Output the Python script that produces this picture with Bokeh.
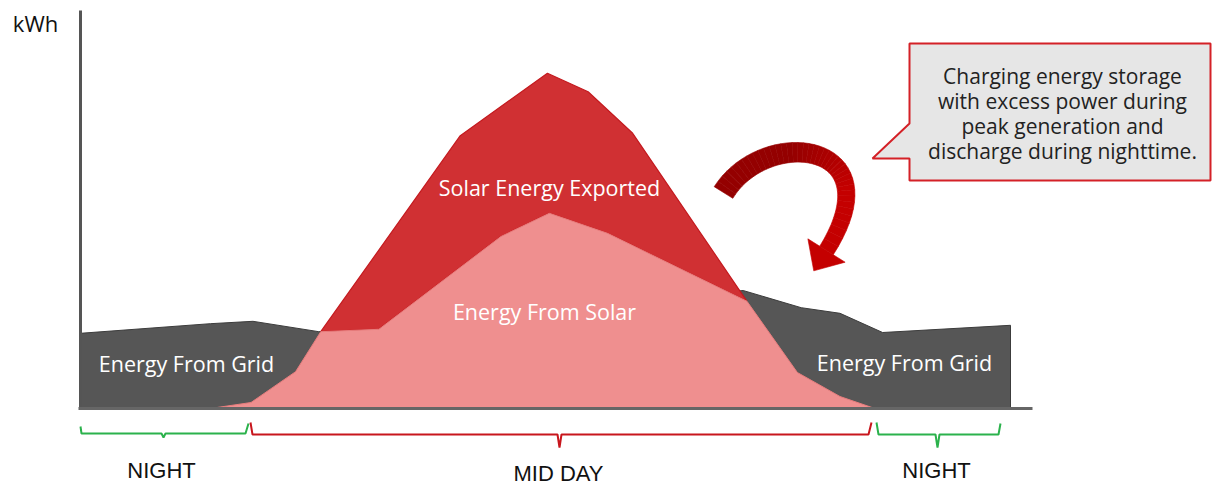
import numpy as np
from bokeh.plotting import figure
from bokeh.models import Range1d, Label
from bokeh.embed import file_html
from bokeh.resources import INLINE

# ---------------- data (hours of day, kWh) ----------------
grid_hours = [0.0, 3.35, 4.45, 6.15, 17.1, 18.6, 19.6, 20.7, 24.0]
grid_kwh = [1.88, 2.12, 2.18, 1.92, 2.95, 2.52, 2.38, 1.90, 2.08]

solar_hours = [3.35, 4.4, 5.55, 6.2, 7.7, 10.85, 12.1, 13.6, 17.2, 18.5, 19.6, 20.5]
solar_kwh = [0.0, 0.15, 0.92, 1.92, 1.98, 4.3, 4.88, 4.38, 2.68, 0.9, 0.3, 0.0]

export_hours = [6.2, 9.8, 12.05, 13.1, 14.25, 17.2]
export_kwh = [1.92, 6.82, 8.38, 7.92, 6.88, 2.68]

area_labels = ["Solar Energy Exported", "Energy From Solar", "Energy From Grid", "Energy From Grid"]
period_labels = ["NIGHT", "MID DAY", "NIGHT"]
callout_lines = ["Charging energy storage", "with excess power during",
                 "peak generation and", "discharge during nighttime."]
y_label = "kWh"

# ---------------- layout helpers (picture pixel -> data) ----------------
X0, KX, Y0, KY = 80.0, 38.75, 408.0, 40.0
def sx(px):
    return (np.asarray(px, dtype=float) - X0) / KX
def sy(py):
    return (Y0 - np.asarray(py, dtype=float)) / KY

W, H = 1212, 486
p = figure(width=W, height=H, output_backend="svg", toolbar_location=None,
           x_axis_type=None, y_axis_type=None, min_border=0,
           x_range=Range1d(float(sx(0)), float(sx(W))),
           y_range=Range1d(float(sy(H)), float(sy(0))))
p.outline_line_color = None
p.background_fill_color = "white"
p.border_fill_color = "white"

# grid area
gx = [grid_hours[0]] + grid_hours + [grid_hours[-1]]
gy = [0.0] + grid_kwh + [0.0]
p.patch(gx, gy, fill_color="#565656", line_color="#3c3c3c", line_width=1)

# exported area (between solar used and total generation)
inner = [(h, k) for h, k in zip(solar_hours, solar_kwh) if export_hours[0] < h < export_hours[-1]]
rx = export_hours + [h for h, _ in inner[::-1]]
ry = export_kwh + [k for _, k in inner[::-1]]
p.patch(rx, ry, fill_color="#d03033", line_color="#c41a1f", line_width=1.2)

# solar used area
p.patch(solar_hours, solar_kwh, fill_color="#ef8f8f", line_color="#e77d7d", line_width=1)

# axes lines
p.line(sx([80, 80]), sy([408, 10]), line_color="#555555", line_width=3)
p.line(sx([78, 1032]), sy([408, 408]), line_color="#666666", line_width=3)

# area labels
lab_pos = [(549, 187), (544, 311), (186, 363), (904, 362)]
for t, (lx, ly) in zip(area_labels, lab_pos):
    p.add_layout(Label(x=float(sx(lx)), y=float(sy(ly)), text=t, text_align="center",
                       text_baseline="middle", text_color="white",
                       text_font="Open Sans", text_font_size="21.5px"))

p.add_layout(Label(x=float(sx(35)), y=float(sy(22)), text=y_label, text_align="center",
                   text_baseline="middle", text_color="#111111",
                   text_font="Open Sans", text_font_size="22px"))

# brackets
green, red = "#2bb24c", "#c8161d"
brackets = [
    ([80, 81, 161, 163, 165, 245, 248], [426, 433, 433, 437, 433, 433, 423], green),
    ([250, 252, 557, 559, 561, 868, 871], [422, 434, 434, 447, 434, 434, 422], red),
    ([876, 878, 935, 937, 939, 998, 1000], [422, 434, 434, 447, 434, 434, 423], green),
]
for bx, by, c in brackets:
    p.line(sx(bx), sy(by), line_color=c, line_width=2)

for t, (lx, ly) in zip(period_labels, [(161, 470), (558, 473), (936, 470)]):
    p.add_layout(Label(x=float(sx(lx)), y=float(sy(ly)), text=t, text_align="center",
                       text_baseline="middle", text_color="#111111",
                       text_font="Liberation Sans", text_font_size="22px"))

# callout box
cx = [909, 1210, 1210, 909, 909, 872, 909]
cy = [43, 43, 180, 180, 158, 158, 123]
p.patch(sx(cx), sy(cy), fill_color="#e6e6e6", line_color="#d42127", line_width=2)
for i, t in enumerate(callout_lines):
    p.add_layout(Label(x=float(sx(1062)), y=float(sy(75 + 25 * i)), text=t, text_align="center",
                       text_baseline="middle", text_color="#222222",
                       text_font="Open Sans", text_font_size="21px"))

# curved arrow
P = np.array([[723, 192], [765, 125], [895, 140], [826, 250]], dtype=float)
t = np.linspace(0, 1, 41)
B = ((1 - t) ** 3)[:, None] * P[0] + (3 * (1 - t) ** 2 * t)[:, None] * P[1] \
    + (3 * (1 - t) * t ** 2)[:, None] * P[2] + (t ** 3)[:, None] * P[3]
D = (3 * (1 - t) ** 2)[:, None] * (P[1] - P[0]) + (6 * (1 - t) * t)[:, None] * (P[2] - P[1]) \
    + (3 * t ** 2)[:, None] * (P[3] - P[2])
D = D / np.linalg.norm(D, axis=1)[:, None]
N = np.stack([-D[:, 1], D[:, 0]], axis=1)
wdt = 11 - 3 * t
L = B + N * wdt[:, None]
R = B - N * wdt[:, None]
c0 = np.array([0x94, 0x00, 0x00]); c1 = np.array([0xc4, 0x00, 0x00])
xs, ys, cols = [], [], []
for i in range(len(t) - 1):
    q = np.array([L[i], L[i + 1], R[i + 1], R[i]])
    xs.append(list(sx(q[:, 0]))); ys.append(list(sy(q[:, 1])))
    f = min(1.0, max(0.0, (t[i] - 0.35) / 0.4))
    c = (c0 + (c1 - c0) * f).astype(int)
    cols.append("#%02x%02x%02x" % tuple(c))
p.patches(xs, ys, fill_color=cols, line_color=cols, line_width=0.6)
end, dirv, nrm = B[-1], D[-1], N[-1]
head = np.array([end + nrm * 22, end + dirv * 24, end - nrm * 22])
p.patch(sx(head[:, 0]), sy(head[:, 1]), fill_color="#c40000", line_color="#c40000", line_width=0.6)

open("out.html", "w").write(file_html(p, INLINE))
